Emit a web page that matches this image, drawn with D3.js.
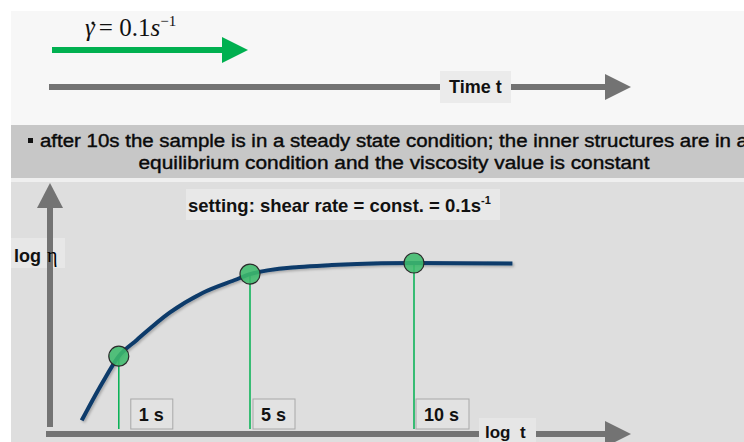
<!DOCTYPE html>
<meta charset="utf-8">
<style>
  body { margin: 0; background: #fff; }
  svg { display: block; font-family: "Liberation Sans", Arial, sans-serif; }
  .lbl { font-weight: bold; fill: #111; }
</style>
<body>
<script src="https://cdn.jsdelivr.net/npm/d3@7"></script>
<script>

  // curve: time t (s) vs. log viscosity (arbitrary units, steady state = 1)
  var curveT   = [-0.13, 0.5, 1, 1.55, 2.55, 3.55, 4.6, 5, 6.5, 7.5, 9, 10, 13];
  var curveEta = [0.08, 0.3, 0.455, 0.55, 0.71, 0.825, 0.905, 0.935, 0.977, 0.988, 0.998, 1.0, 0.997];

  // marked points
  var markT      = [1, 5, 10];
  var markEta    = [0.455, 0.935, 1.0];
  var markLabels = ["1 s", "5 s", "10 s"];

  var bandLines = [
    "after 10s the sample is in a steady state condition; the inner structures are in a",
    "equilibrium condition and the viscosity value is constant"
  ];

  var W = 744, H = 442;

  var svg = d3.select("body").append("svg")
      .attr("width", W)
      .attr("height", H);

  var defs = svg.append("defs");
  var f = defs.append("filter").attr("id", "shadow")
      .attr("x", "-10%").attr("y", "-10%").attr("width", "120%").attr("height", "130%");
  f.append("feDropShadow").attr("dx", 1.5).attr("dy", 1.5).attr("stdDeviation", 1)
      .attr("flood-color", "#000").attr("flood-opacity", 0.25);

  // ---- panels
  svg.append("rect").attr("x", 11).attr("y", 11).attr("width", W - 11).attr("height", 114).attr("fill", "#f7f7f7");
  svg.append("rect").attr("x", 11).attr("y", 125).attr("width", W - 11).attr("height", 53).attr("fill", "#c7c7c7");
  svg.append("rect").attr("x", 11).attr("y", 178).attr("width", W - 11).attr("height", 4).attr("fill", "#efefef");
  svg.append("rect").attr("x", 11).attr("y", 182).attr("width", W - 11).attr("height", H - 182).attr("fill", "#dedede");

  // ---- top: shear rate arrow + time arrow
  var head = svg.append("g");
  head.append("line").attr("x1", 52).attr("x2", 224).attr("y1", 50).attr("y2", 50)
      .attr("stroke", "#00b050").attr("stroke-width", 6);
  head.append("path").attr("d", "M222,37 L248,50 L222,63 Z").attr("fill", "#00b050");

  var serif = "'Liberation Serif', 'Times New Roman', serif";
  var formula = head.append("text").attr("x", 85).attr("y", 36)
      .style("font-family", serif).style("font-size", "25px").attr("fill", "#111");
  formula.append("tspan").style("font-style", "italic").text("\u03B3");
  formula.append("tspan").attr("dx", 4).text("= 0.1");
  formula.append("tspan").style("font-style", "italic").text("s");
  formula.append("tspan").attr("dy", -10).style("font-size", "15px").text("\u22121");
  // dot over gamma (time derivative)
  head.append("circle").attr("cx", 93).attr("cy", 23).attr("r", 1.6).attr("fill", "#111");

  head.append("line").attr("x1", 49).attr("x2", 607).attr("y1", 87).attr("y2", 87)
      .attr("stroke", "#737373").attr("stroke-width", 6);
  head.append("path").attr("d", "M605,74 L631,87 L605,100 Z").attr("fill", "#737373");
  head.append("rect").attr("x", 440).attr("y", 71).attr("width", 71).attr("height", 32).attr("fill", "#ebebeb");
  head.append("text").attr("class", "lbl").attr("x", 449).attr("y", 93)
      .style("font-size", "18px").text("Time t");

  // ---- grey band text
  svg.append("rect").attr("x", 28).attr("y", 138).attr("width", 5).attr("height", 5).attr("fill", "#111");
  svg.append("text").attr("x", 40).attr("y", 147)
      .attr("textLength", 708).attr("lengthAdjust", "spacingAndGlyphs")
      .style("font-size", "18px").attr("fill", "#0a0a0a").attr("stroke", "#0a0a0a").attr("stroke-width", 0.4)
      .text(bandLines[0]);
  svg.append("text").attr("x", 394).attr("y", 169).attr("text-anchor", "middle")
      .attr("textLength", 511).attr("lengthAdjust", "spacingAndGlyphs")
      .style("font-size", "18px").attr("fill", "#0a0a0a").attr("stroke", "#0a0a0a").attr("stroke-width", 0.4)
      .text(bandLines[1]);

  // ---- chart
  var x = d3.scaleLinear().domain([0, 10]).range([86, 414]);
  var y = d3.scaleLinear().domain([0, 1]).range([434, 263]);

  var chart = svg.append("g");

  // y label box sits under the axis
  chart.append("rect").attr("x", 11).attr("y", 238).attr("width", 54).attr("height", 30).attr("fill", "#e7e7e7");

  // axes as arrows
  chart.append("line").attr("x1", 50).attr("x2", 50).attr("y1", 427).attr("y2", 205)
      .attr("stroke", "#737373").attr("stroke-width", 6);
  chart.append("path").attr("d", "M37,208 L50,183 L63,208 Z").attr("fill", "#737373");
  chart.append("line").attr("x1", 46).attr("x2", 607).attr("y1", 434).attr("y2", 434)
      .attr("stroke", "#737373").attr("stroke-width", 6);
  chart.append("path").attr("d", "M605,421 L631,434 L605,447 Z").attr("fill", "#737373");

  var yl = chart.append("text").attr("x", 14).attr("y", 262);
  yl.append("tspan").attr("class", "lbl").style("font-size", "18px").text("log");
  yl.append("tspan").attr("x", 47).style("font-family", serif).style("font-size", "20px")
      .attr("fill", "#000").text("\u03B7");

  chart.append("rect").attr("x", 479).attr("y", 418).attr("width", 57).attr("height", 30).attr("fill", "#e6e6e6");
  chart.append("text").attr("class", "lbl").attr("x", 485).attr("y", 438)
      .style("font-size", "17px").style("white-space", "pre").text("log  t");

  chart.append("rect").attr("x", 186).attr("y", 189).attr("width", 314).attr("height", 31).attr("fill", "#e8e8e8");
  var st = chart.append("text").attr("class", "lbl").attr("x", 188).attr("y", 212).style("font-size", "18.5px");
  st.append("tspan").text("setting: shear rate = const. = 0.1s");
  st.append("tspan").attr("dy", -8).style("font-size", "11px").text("-1");

  // drop lines
  var pts = markT.map(function(t, i) { return {t: t, eta: markEta[i], label: markLabels[i]}; });
  var labelDx = [12, 3, 2];

  chart.selectAll(".drop").data(pts).enter().append("line")
      .attr("class", "drop")
      .attr("x1", function(d) { return x(d.t); })
      .attr("x2", function(d) { return x(d.t); })
      .attr("y1", function(d) { return y(d.eta); })
      .attr("y2", 429)
      .attr("stroke", "#00b050").attr("stroke-width", 1.5);

  // label boxes
  var lg = chart.selectAll(".tl").data(pts).enter().append("g").attr("class", "tl")
      .attr("transform", function(d, i) { return "translate(" + (x(d.t) + labelDx[i]) + ",399)"; });
  lg.append("rect").attr("width", function(d) { return d.label.length > 3 ? 53 : 42; })
      .attr("height", 30).attr("fill", "#e2e2e2").attr("stroke", "#a8a8a8").attr("stroke-width", 1);
  lg.append("text").attr("class", "lbl").attr("x", 8).attr("y", 22).style("font-size", "18px")
      .text(function(d) { return d.label; });

  // curve
  var line = d3.line()
      .x(function(d) { return x(d[0]); })
      .y(function(d) { return y(d[1]); })
      .curve(d3.curveMonotoneX);
  chart.append("path")
      .datum(curveT.map(function(t, i) { return [t, curveEta[i]]; }))
      .attr("d", line)
      .attr("fill", "none")
      .attr("stroke", "#0b3a6a")
      .attr("stroke-width", 4)
      .attr("filter", "url(#shadow)");

  // markers
  chart.selectAll(".mk").data(pts).enter().append("circle")
      .attr("class", "mk")
      .attr("cx", function(d) { return x(d.t); })
      .attr("cy", function(d) { return y(d.eta); })
      .attr("r", 10)
      .attr("fill", "#3dbb6c").attr("fill-opacity", 0.88)
      .attr("stroke", "#2b2b2b").attr("stroke-width", 1.2);

</script>
</body>
